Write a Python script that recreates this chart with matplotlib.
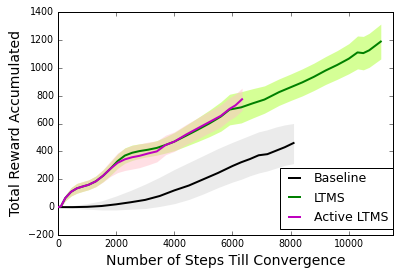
import numpy as np
import matplotlib
matplotlib.use("Agg")
import matplotlib.pyplot as plt

plt.style.use("classic")

# ---- Baseline (mean and band) ----
base_x = [0, 500, 1000, 1500, 2000, 2500, 3000, 3500, 4000, 4500, 5000,
          5500, 6000, 6300, 6600, 6900, 7200, 7500, 7800, 8100]
base_y = [0, 0, 2, 8, 20, 35, 52, 80, 120, 155, 200,
          245, 295, 322, 345, 372, 380, 405, 430, 460]
base_hi = [0, 10, 25, 45, 80, 120, 165, 215, 270, 320, 370,
           420, 465, 490, 515, 540, 555, 575, 590, 600]
base_lo = [0, -8, -15, -20, -20, -15, -10, 5, 25, 55, 95,
           140, 180, 200, 225, 245, 260, 280, 300, 312]

# ---- LTMS ----
ltms_x = [0, 100, 250, 450, 650, 850, 1050, 1300, 1550, 1800, 2050, 2300,
          2550, 2800, 3100, 3400, 3700, 4000, 4400, 4800, 5200, 5600, 5900,
          6300, 6700, 7100, 7600, 8000, 8400, 8800, 9200, 9600, 10000,
          10300, 10500, 10700, 11100]
ltms_y = [0, 5, 65, 110, 135, 148, 160, 185, 225, 275, 330, 370,
          390, 402, 412, 425, 446, 470, 512, 555, 600, 650, 700,
          716, 745, 772, 825, 860, 895, 935, 980, 1020, 1065,
          1110, 1105, 1125, 1188]
ltms_sd = [0, 5, 20, 30, 35, 35, 35, 38, 42, 48, 52, 55,
           55, 52, 50, 52, 58, 65, 75, 85, 95, 105, 110,
           112, 105, 98, 95, 95, 97, 98, 100, 103, 108,
           118, 120, 122, 125]

# ---- Active LTMS ----
act_x = [0, 100, 250, 450, 650, 850, 1050, 1300, 1550, 1800, 2050, 2300,
         2550, 2800, 3100, 3400, 3700, 4000, 4400, 4800, 5200, 5600, 5900,
         6100, 6330]
act_y = [0, 5, 65, 110, 135, 148, 160, 185, 225, 275, 318, 343,
         358, 368, 385, 400, 446, 470, 520, 565, 610, 655, 705,
         730, 774]
act_sd = [0, 5, 20, 30, 35, 35, 35, 38, 45, 55, 70, 80,
          85, 85, 82, 75, 70, 70, 72, 75, 78, 80, 80,
          80, 80]

fig = plt.figure(figsize=(399 / 72.0, 275 / 72.0), dpi=72, facecolor="white")
ax = fig.add_axes([58 / 399.0, 40 / 275.0, 335 / 399.0, 223 / 275.0])

bx, by = np.array(base_x), np.array(base_y)
lx, ly, ls = np.array(ltms_x), np.array(ltms_y), np.array(ltms_sd)
axx, ay, asd = np.array(act_x), np.array(act_y), np.array(act_sd)

ax.fill_between(bx, base_lo, base_hi, color="lightgray", alpha=0.45,
                lw=0, zorder=1)
ax.fill_between(lx, ly - ls, ly + ls, color="greenyellow", alpha=0.5,
                lw=0, zorder=1)
ax.fill_between(axx, ay - asd, ay + asd, color="pink", alpha=0.5,
                lw=0, zorder=1)

ax.plot(bx, by, color="black", lw=2, label="Baseline", zorder=3)
ax.plot(lx, ly, color="green", lw=2, label="LTMS", zorder=3)
ax.plot(axx, ay, color="m", lw=2, label="Active LTMS", zorder=4)

ax.set_xlim(0, 11520)
ax.set_ylim(-200, 1400)
ax.set_xticks([0, 2000, 4000, 6000, 8000, 10000])
ax.set_yticks(range(-200, 1401, 200))
ax.tick_params(labelsize=9.5)

ax.set_xlabel("Number of Steps Till Convergence", fontsize=14)
ax.set_ylabel("Total Reward Accumulated", fontsize=14)

ax.legend(loc="lower right", fontsize=12.5, handlelength=1.5,
          borderaxespad=0, bbox_to_anchor=(1.0, 6 / 223.0))

fig.savefig("out.png", dpi=72, facecolor="white")
